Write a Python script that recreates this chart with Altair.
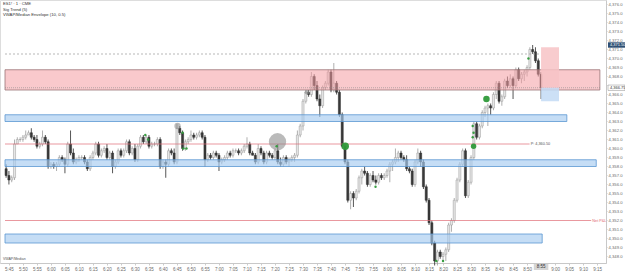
import altair as alt
import pandas as pd

# ---------------- data ----------------
START_MIN = 345  # 5:45 expressed in minutes after midnight
minutes = list(range(-1, 191))

open_p = [4357.75, 4357.0, 4356.5, 4356.75, 4360.5, 4361.0, 4361.0, 4361.25, 4361.5, 4361.75,
          4361.25, 4361.0, 4360.25, 4360.5, 4361.25, 4360.75, 4358.0, 4358.25, 4358.0, 4358.25,
          4359.0, 4358.75, 4358.25, 4360.5, 4359.5, 4358.5, 4358.75, 4359.0, 4359.0, 4358.5,
          4357.75, 4359.0, 4359.5, 4360.5, 4359.25, 4359.75, 4360.0, 4359.0, 4359.5, 4358.0,
          4358.5, 4359.75, 4359.25, 4359.75, 4360.75, 4359.5, 4360.0, 4358.75, 4360.25, 4361.25,
          4360.75, 4361.25, 4360.25, 4360.5, 4360.5, 4361.0, 4358.0, 4358.5, 4358.25, 4359.75,
          4359.5, 4358.5, 4362.25, 4361.75, 4360.0, 4360.75, 4361.0, 4361.5, 4361.25, 4361.5,
          4361.75, 4361.25, 4358.75, 4359.25, 4359.0, 4359.5, 4359.25, 4358.5, 4358.75, 4359.0,
          4359.5, 4359.25, 4359.75, 4359.75, 4359.5, 4359.75, 4360.25, 4360.5, 4359.5, 4359.25,
          4358.5, 4360.0, 4359.5, 4358.5, 4359.5, 4359.25, 4359.0, 4359.75, 4358.5, 4358.25,
          4359.0, 4358.5, 4358.75, 4359.0, 4359.25, 4361.5, 4362.5, 4365.25, 4366.25, 4366.0,
          4368.0, 4367.0, 4365.5, 4364.75, 4366.75, 4367.25, 4368.5, 4366.5, 4367.25, 4366.25,
          4363.75, 4360.25, 4358.5, 4354.25, 4355.0, 4354.5, 4355.25, 4356.75, 4357.5, 4357.25,
          4356.0, 4357.0, 4356.5, 4356.25, 4357.0, 4356.75, 4357.0, 4357.5, 4358.25, 4358.5,
          4359.0, 4359.5, 4359.0, 4358.75, 4357.75, 4357.5, 4356.0, 4358.5, 4359.5, 4358.5,
          4355.75, 4354.25, 4351.75, 4349.5, 4347.5, 4348.5, 4348.0, 4348.25, 4348.75, 4351.5,
          4352.0, 4354.25, 4356.5, 4358.25, 4359.75, 4354.75, 4356.25, 4359.0, 4362.75, 4361.25,
          4362.5, 4364.0, 4364.5, 4364.75, 4364.5, 4366.0, 4367.25, 4365.25, 4365.75, 4367.5,
          4367.0, 4367.75, 4367.0, 4368.75, 4367.75, 4368.25, 4368.5, 4369.0, 4371.0, 4370.75,
          4369.75, 4368.25]

high_p = [4358.25, 4357.5, 4357.0, 4361.0, 4361.25, 4361.25, 4361.5, 4362.0, 4362.0, 4362.25,
          4361.5, 4361.5, 4360.75, 4362.0, 4361.5, 4361.0, 4358.5, 4358.5, 4358.5, 4359.25,
          4359.25, 4359.0, 4360.75, 4362.0, 4360.0, 4359.0, 4359.25, 4359.25, 4359.25, 4358.75,
          4359.25, 4359.75, 4360.75, 4360.75, 4360.0, 4360.25, 4360.5, 4359.75, 4359.75, 4358.75,
          4360.0, 4360.0, 4360.0, 4361.0, 4361.0, 4360.25, 4360.5, 4360.5, 4361.5, 4361.5,
          4361.5, 4361.5, 4360.75, 4360.75, 4361.25, 4361.25, 4358.75, 4358.75, 4360.0, 4360.0,
          4360.0, 4362.75, 4362.5, 4362.0, 4361.0, 4361.25, 4362.0, 4361.75, 4361.75, 4362.0,
          4362.0, 4361.5, 4359.5, 4359.5, 4359.75, 4359.75, 4359.5, 4359.0, 4359.25, 4359.75,
          4359.75, 4360.0, 4360.0, 4360.0, 4360.0, 4360.5, 4361.25, 4360.75, 4359.75, 4359.5,
          4360.5, 4360.25, 4359.75, 4359.75, 4359.75, 4359.5, 4360.0, 4360.5, 4359.0, 4359.25,
          4359.25, 4359.0, 4359.25, 4359.5, 4362.0, 4362.75, 4365.5, 4366.5, 4366.5, 4368.5,
          4368.25, 4367.5, 4366.0, 4367.0, 4367.5, 4368.75, 4368.75, 4369.5, 4367.5, 4366.5,
          4364.0, 4360.5, 4358.75, 4355.25, 4355.25, 4355.5, 4357.0, 4357.75, 4358.0, 4357.5,
          4357.25, 4357.5, 4357.0, 4357.25, 4357.25, 4357.25, 4357.75, 4358.5, 4358.75, 4360.0,
          4359.75, 4359.75, 4359.25, 4359.25, 4358.0, 4357.75, 4358.75, 4360.0, 4359.75, 4358.75,
          4356.0, 4354.5, 4352.0, 4349.75, 4348.75, 4348.75, 4348.5, 4349.0, 4351.75, 4352.25,
          4354.5, 4356.75, 4358.5, 4360.0, 4360.0, 4356.5, 4359.25, 4363.0, 4363.0, 4362.75,
          4364.25, 4364.75, 4365.0, 4365.0, 4366.25, 4367.5, 4367.5, 4366.0, 4367.75, 4368.0,
          4368.25, 4368.0, 4369.0, 4369.0, 4368.5, 4368.75, 4369.25, 4371.25, 4371.5, 4371.25,
          4370.0, 4368.5]

low_p = [4356.75, 4356.0, 4356.25, 4356.5, 4360.5, 4360.75, 4360.75, 4361.0, 4361.5, 4361.0,
         4360.75, 4360.0, 4360.0, 4360.25, 4360.5, 4357.75, 4357.75, 4357.75, 4357.5, 4358.0,
         4358.5, 4357.25, 4358.0, 4359.25, 4358.25, 4358.25, 4358.5, 4358.75, 4358.25, 4357.5,
         4357.5, 4358.75, 4359.25, 4359.0, 4359.0, 4359.5, 4358.75, 4358.75, 4357.25, 4357.75,
         4358.25, 4359.0, 4359.0, 4359.5, 4359.25, 4359.25, 4358.5, 4358.5, 4360.0, 4360.5,
         4360.5, 4360.0, 4360.0, 4360.25, 4360.25, 4357.75, 4357.75, 4356.75, 4358.0, 4359.25,
         4358.25, 4358.25, 4361.5, 4359.75, 4359.75, 4360.5, 4360.75, 4361.0, 4361.0, 4361.25,
         4361.0, 4358.0, 4358.5, 4358.75, 4358.75, 4359.0, 4357.5, 4358.25, 4358.5, 4358.75,
         4359.0, 4359.0, 4359.5, 4359.25, 4359.25, 4359.5, 4360.0, 4359.25, 4359.25, 4358.25,
         4358.25, 4359.25, 4358.25, 4358.25, 4359.0, 4358.75, 4358.75, 4358.25, 4358.0, 4358.0,
         4358.25, 4358.0, 4358.5, 4358.5, 4359.0, 4361.25, 4362.0, 4365.0, 4365.75, 4365.75,
         4366.5, 4365.25, 4363.5, 4364.5, 4366.5, 4367.0, 4366.25, 4366.25, 4366.0, 4363.5,
         4360.0, 4358.25, 4354.0, 4353.25, 4353.5, 4354.25, 4355.0, 4356.0, 4357.0, 4355.75,
         4355.75, 4356.25, 4356.0, 4356.0, 4356.5, 4356.5, 4356.75, 4356.25, 4357.5, 4358.25,
         4358.5, 4358.75, 4358.5, 4357.5, 4357.25, 4355.75, 4355.75, 4358.25, 4358.0, 4355.5,
         4354.0, 4351.5, 4349.25, 4347.0, 4347.0, 4347.75, 4347.5, 4347.5, 4348.5, 4350.75,
         4351.75, 4354.0, 4356.25, 4358.0, 4354.5, 4354.5, 4356.0, 4358.75, 4361.0, 4361.0,
         4362.25, 4363.5, 4362.5, 4363.75, 4364.25, 4365.5, 4365.0, 4364.75, 4365.5, 4366.75,
         4366.75, 4365.5, 4366.75, 4367.5, 4367.25, 4367.5, 4368.0, 4368.75, 4370.5, 4369.5,
         4368.0, 4365.5]

close_p = [4357.0, 4356.5, 4356.75, 4360.5, 4361.0, 4361.0, 4361.25, 4361.5, 4361.75, 4361.25,
           4361.0, 4360.25, 4360.5, 4361.25, 4360.75, 4358.0, 4358.25, 4358.0, 4358.25, 4359.0,
           4358.75, 4358.25, 4360.5, 4359.5, 4358.5, 4358.75, 4359.0, 4359.0, 4358.5, 4357.75,
           4359.0, 4359.5, 4360.5, 4359.25, 4359.75, 4360.0, 4359.0, 4359.5, 4358.0, 4358.5,
           4359.75, 4359.25, 4359.75, 4360.75, 4359.5, 4360.0, 4358.75, 4360.25, 4361.25, 4360.75,
           4361.25, 4360.25, 4360.5, 4360.5, 4361.0, 4358.0, 4358.5, 4358.25, 4359.75, 4359.5,
           4358.5, 4362.25, 4361.75, 4360.0, 4360.75, 4361.0, 4361.5, 4361.25, 4361.5, 4361.75,
           4361.25, 4358.75, 4359.25, 4359.0, 4359.5, 4359.25, 4358.5, 4358.75, 4359.0, 4359.5,
           4359.25, 4359.75, 4359.75, 4359.5, 4359.75, 4360.25, 4360.5, 4359.5, 4359.25, 4358.5,
           4360.0, 4359.5, 4358.5, 4359.5, 4359.25, 4359.0, 4359.75, 4358.5, 4358.25, 4359.0,
           4358.5, 4358.75, 4359.0, 4359.25, 4361.5, 4362.5, 4365.25, 4366.25, 4366.0, 4368.0,
           4367.0, 4365.5, 4364.75, 4366.75, 4367.25, 4368.5, 4366.5, 4367.25, 4366.25, 4363.75,
           4360.25, 4358.5, 4354.25, 4355.0, 4354.5, 4355.25, 4356.75, 4357.5, 4357.25, 4356.0,
           4357.0, 4356.5, 4356.25, 4357.0, 4356.75, 4357.0, 4357.5, 4358.25, 4358.5, 4359.0,
           4359.5, 4359.0, 4358.75, 4357.75, 4357.5, 4356.0, 4358.5, 4359.5, 4358.5, 4355.75,
           4354.25, 4351.75, 4349.5, 4347.5, 4348.5, 4348.0, 4348.25, 4348.75, 4351.5, 4352.0,
           4354.25, 4356.5, 4358.25, 4359.75, 4354.75, 4356.25, 4359.0, 4362.75, 4361.25, 4362.5,
           4364.0, 4364.5, 4364.75, 4364.5, 4366.0, 4367.25, 4365.25, 4365.75, 4367.5, 4367.0,
           4367.75, 4367.0, 4368.75, 4367.75, 4368.25, 4368.5, 4369.0, 4371.0, 4370.75, 4369.75,
           4368.25, 4366.75]

# supply / demand zones
zone_lo = [4366.5, 4363.0, 4358.0, 4349.5]
zone_hi = [4368.75, 4363.75, 4358.75, 4350.5]
zone_end = [211.0, 199.2, 209.7, 190.4]
zone_kind = ["supply", "demand", "demand", "demand"]

# horizontal levels
level_price = [4370.5, 4360.5, 4352.0]
level_end = [190.0, 185.9, 207.9]
level_kind = ["dashed", "pivot", "pnl"]

# open position box
pos_start, pos_end = 190.0, 196.4
pos_entry, pos_target, pos_stop = 4366.75, 4371.25, 4365.25

# signal markers
marker_t = [95.9, 60.2, 106.4, 120.1, 170.5, 165.9, 48.7, 49.7, 62.0, 62.3, 63.4,
            95.6, 130.9, 152.6, 155.0, 185.5, 165.6, 165.9, 165.6]
marker_price = [4360.75, 4362.5, 4366.25, 4360.25, 4365.5, 4360.25, 4361.5, 4361.0, 4361.75,
                4360.0, 4360.0, 4360.25, 4355.75, 4347.5, 4347.5, 4370.0, 4362.5, 4361.75, 4361.25]
marker_kind = ["gray", "gray", "gray", "green", "green", "green"] + ["green"] * 13
marker_size = [300, 40, 22, 55, 42, 30, 6, 6, 6, 6, 6, 6, 6, 6, 6, 6, 6, 6, 6]

header_lines = ["ES1! · 1 · CME", "Sig Trend (5)", "VWAP/Median Envelope (10, 0.5)"]
pivot_label = "P: 4,360.50"
pnl_label = "Net P&L"
high_label_price = 4371.5
last_price = 4366.75
last_time = 190
hidden_axis_prices = [4367]  # covered by the last-price tag

# ---------------- build ----------------
UP_FILL, UP_LINE = "#e6e6e6", "#9a9a9a"
DN_FILL, DN_LINE = "#3a3a3a", "#2b2b2b"

df = pd.DataFrame({"t": minutes, "open": open_p, "high": high_p, "low": low_p, "close": close_p})
df["hi"] = df[["high", "open", "close"]].max(axis=1)
df["lo"] = df[["low", "open", "close"]].min(axis=1)
up = df["close"] >= df["open"]
df["fillc"] = [UP_FILL if u else DN_FILL for u in up]
df["linec"] = [UP_LINE if u else DN_LINE for u in up]

X0, X1 = -1.4, 211.4
Y0, Y1 = 4376.5 - 263 / 9, 4376.5
xs = alt.Scale(domain=[X0, X1], nice=False, zero=False)
ys = alt.Scale(domain=[Y0, Y1], nice=False, zero=False)

FONT = "Liberation Sans"
tfmt = ("floor((V + 345) / 60) + ':' + (((V + 345) % 60) < 10 ? '0' : '') + ((V + 345) % 60)")
lbl = "datum.value == 190 ? '' : " + tfmt.replace("V", "datum.value")
ylbl = " || ".join(f"datum.value == {v}" for v in hidden_axis_prices) + " ? '' : format(datum.value, ',.1f')"
x_axis = alt.Axis(values=list(range(0, 211, 5)), labelExpr=lbl, labelFontSize=4.5,
                  labelColor="#6b6b6b", labelFont=FONT, tickSize=2, tickColor="#cccccc",
                  domainColor="#c8c8c8", grid=False, title=None, labelPadding=1,
                  labelOverlap=False, labelFlush=False)
y_axis = alt.Axis(orient="right", values=list(range(4348, 4377)), labelExpr=ylbl,
                  labelFontSize=4.2, labelColor="#6b6b6b", labelFont=FONT, tickSize=1,
                  tickColor="#cccccc", domainColor="#c8c8c8", grid=False, title=None,
                  labelPadding=1, labelOverlap=False, labelFlush=False)


def X(f):
    return alt.X(f, type="quantitative", scale=xs, axis=x_axis)


def Y(f):
    return alt.Y(f, type="quantitative", scale=ys, axis=y_axis)


wicks = alt.Chart(df).mark_rule(strokeWidth=0.8).encode(
    x=X("t"), y=Y("lo"), y2="hi", color=alt.Color("linec:N", scale=None))
bodies = alt.Chart(df).mark_bar(size=2.1, strokeWidth=0.5).encode(
    x=X("t"), y=Y("open"), y2="close",
    fill=alt.Fill("fillc:N", scale=None), stroke=alt.Stroke("linec:N", scale=None))

zdf = pd.DataFrame({"lo": zone_lo, "hi": zone_hi, "end": zone_end, "kind": zone_kind})
zdf["start"] = X0
supply = alt.Chart(zdf[zdf.kind == "supply"]).mark_rect(
    fill="#f49da3", fillOpacity=0.55, stroke="#9b7476", strokeWidth=0.8).encode(
    x=X("start"), x2="end", y=Y("lo"), y2="hi")
demand = alt.Chart(zdf[zdf.kind == "demand"]).mark_rect(
    fill="#a6cbef", fillOpacity=0.65, stroke="#5b97d2", strokeWidth=0.8).encode(
    x=X("start"), x2="end", y=Y("lo"), y2="hi")

ldf = pd.DataFrame({"p": level_price, "end": level_end, "kind": level_kind})
ldf["start"] = X0
dashed = alt.Chart(ldf[ldf.kind == "dashed"]).mark_rule(color="#9a9a9a", strokeWidth=0.7, strokeDash=[2, 2]).encode(
    x=X("start"), x2="end", y=Y("p"))
redlines = alt.Chart(ldf[ldf.kind != "dashed"]).mark_rule(color="#e06c75", strokeWidth=0.7).encode(
    x=X("start"), x2="end", y=Y("p"))

lp = pd.DataFrame({"p": [last_price], "s": [X0], "e": [X1]})
last_line = alt.Chart(lp).mark_rule(color="#8a8a8a", strokeWidth=0.6, strokeDash=[1, 1]).encode(
    x=X("s"), x2="e", y=Y("p"))

pdf = pd.DataFrame({"s": [pos_start], "e": [pos_end], "entry": [pos_entry],
                    "target": [pos_target], "stop": [pos_stop]})
pos_target_box = alt.Chart(pdf).mark_rect(fill="#f7c3c6", opacity=0.85).encode(
    x=X("s"), x2="e", y=Y("entry"), y2="target")
pos_stop_box = alt.Chart(pdf).mark_rect(fill="#c3dbf5", opacity=0.85).encode(
    x=X("s"), x2="e", y=Y("stop"), y2="entry")

mdf = pd.DataFrame({"t": marker_t, "p": marker_price, "kind": marker_kind, "size": marker_size})
mdf["col"] = ["#8c8c8c" if k == "gray" else "#2f9a3a" for k in mdf["kind"]]
mdf["op"] = [0.6 if k == "gray" else 0.95 for k in mdf["kind"]]
markers = alt.Chart(mdf).mark_circle().encode(
    x=X("t"), y=Y("p"),
    size=alt.Size("size:Q", scale=None, legend=None),
    color=alt.Color("col:N", scale=None),
    opacity=alt.Opacity("op:Q", scale=None, legend=None))

tdf = pd.DataFrame({"t": [186.3, 208.3], "p": [4360.5, 4352.0], "txt": [pivot_label, pnl_label],
                    "c": ["#555555", "#e06c75"]})
level_text = alt.Chart(tdf).mark_text(align="left", baseline="middle", fontSize=3.8, font=FONT).encode(
    x=X("t"), y=Y("p"), text="txt:N", color=alt.Color("c:N", scale=None))

hdf = pd.DataFrame({"txt": header_lines, "yy": [4, 10, 15]})
header = alt.Chart(hdf).mark_text(align="left", baseline="middle", fontSize=4.2, font=FONT, color="#333333").encode(
    x=alt.value(3), y=alt.Y("yy:Q", scale=None), text="txt:N")

foot = alt.Chart(pd.DataFrame({"txt": ["VWAP/Median"]})).mark_text(
    align="left", baseline="middle", fontSize=3.5, font=FONT, color="#555555").encode(
    x=alt.value(3), y=alt.value(259), text="txt:N")

# price-axis tags
hi_df = pd.DataFrame({"p": [high_label_price], "lo": [high_label_price - 0.3], "hi": [high_label_price + 0.3]})
last_df = pd.DataFrame({"p": [last_price], "lo": [last_price - 0.3], "hi": [last_price + 0.3]})
hi_tag = alt.Chart(hi_df).mark_rect(fill="#2e4f73").encode(
    x=alt.value(608), x2=alt.value(625), y=Y("lo"), y2="hi")
hi_txt = alt.Chart(hi_df).mark_text(align="left", baseline="middle", fontSize=4.0, font=FONT, color="#ffffff").encode(
    x=alt.value(610), y=Y("p"), text=alt.Text("p:Q", format=",.2f"))
last_tag = alt.Chart(last_df).mark_rect(fill="#ffffff", stroke="#8a8a8a", strokeWidth=0.5).encode(
    x=alt.value(608), x2=alt.value(625), y=Y("lo"), y2="hi")
last_txt = alt.Chart(last_df).mark_text(align="left", baseline="middle", fontSize=4.0, font=FONT, color="#333333").encode(
    x=alt.value(610), y=Y("p"), text=alt.Text("p:Q", format=",.2f"))

time_df = pd.DataFrame({"t": [last_time], "a": [last_time - 2.6], "b": [last_time + 2.6]})
time_tag = alt.Chart(time_df).mark_rect(color="#d5d5d5").encode(
    x=X("a"), x2="b", y=alt.value(264), y2=alt.value(270))
time_txt = alt.Chart(time_df).transform_calculate(
    label=tfmt.replace("V", "datum.t")
).mark_text(baseline="middle", fontSize=4.5, font=FONT, color="#333333").encode(
    x=X("t"), y=alt.value(267), text=alt.Text("label:N"))

chart = alt.layer(
    wicks, bodies, supply, demand, dashed, redlines, last_line, pos_target_box, pos_stop_box, markers,
    level_text, header, foot, hi_tag, hi_txt, last_tag, last_txt, time_tag, time_txt
).properties(
    width=606, height=263,
    padding={"left": 0, "top": 0, "right": 19, "bottom": 9},
    autosize=alt.AutoSizeParams(type="none"),
).configure_view(stroke="#d0d0d0", strokeWidth=0.8).configure(background="#ffffff")

chart.save("out.html", embed_options={"renderer": "svg", "actions": False})
